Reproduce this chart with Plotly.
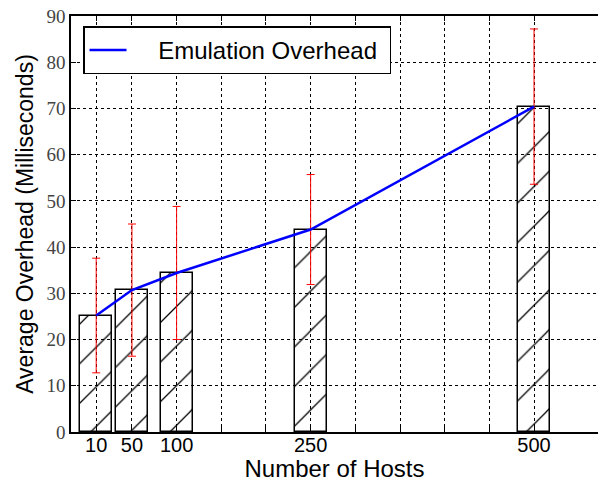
import plotly.graph_objects as go

hosts = [10, 50, 100, 250, 500]
means = [25.2, 30.7, 34.4, 43.8, 70.4]
errs = [12.4, 14.3, 14.4, 11.9, 16.8]
x_tickvals = [10, 50, 100, 150, 200, 250, 300, 350, 400, 450, 500]
x_ticktext = ["10", "50", "100", "", "", "250", "", "", "", "", "500"]
y_tickvals = [0, 10, 20, 30, 40, 50, 60, 70, 80, 90]

fig = go.Figure()
fig.add_trace(go.Bar(
    x=hosts, y=means, width=36, showlegend=False,
    marker=dict(color="rgba(255,255,255,0)", line=dict(color="black", width=1.5),
                pattern=dict(shape="/", size=28, solidity=0.045, fgcolor="black",
                             fgopacity=1, bgcolor="rgba(255,255,255,0)")),
    error_y=dict(type="data", array=errs, color="red", thickness=1, width=4),
))
fig.add_trace(go.Scatter(
    x=hosts, y=means, mode="lines",
    name="\u00a0\u00a0\u00a0\u00a0Emulation Overhead\u00a0",
    line=dict(color="blue", width=2.5),
))

fig.update_layout(
    width=598, height=482,
    margin=dict(l=71, r=0, t=16, b=50),
    plot_bgcolor="white", paper_bgcolor="white",
    font=dict(family="Liberation Sans", color="black"),
    legend=dict(x=0.0228, y=0.975, xanchor="left", yanchor="top",
                bordercolor="black", borderwidth=1.5, bgcolor="white",
                font=dict(size=24, family="Liberation Sans"), itemwidth=37),
    bargap=0,
)
fig.update_xaxes(
    range=[-18.2, 571.6], tickvals=x_tickvals, ticktext=x_ticktext,
    ticks="inside", ticklen=5, tickcolor="black", showline=True, linecolor="black",
    linewidth=1.5, mirror="allticks", showgrid=True, gridcolor="black", griddash="dot",
    gridwidth=1, zeroline=False, tickfont=dict(size=20, family="Liberation Sans"),
    ticklabelstandoff=-6,
    title=dict(text="Number of Hosts", font=dict(size=24), standoff=0),
)
fig.update_yaxes(
    range=[0, 90], tickvals=y_tickvals,
    ticks="inside", ticklen=5, tickcolor="black", showline=True, linecolor="black",
    linewidth=1.5, showgrid=True, gridcolor="black", griddash="dot", gridwidth=1,
    zeroline=False, tickfont=dict(size=19, family="Liberation Serif", color="#444"),
    title=dict(text="Average Overhead (Milliseconds)", font=dict(size=23), standoff=6),
)

fig.write_html("out.html")
